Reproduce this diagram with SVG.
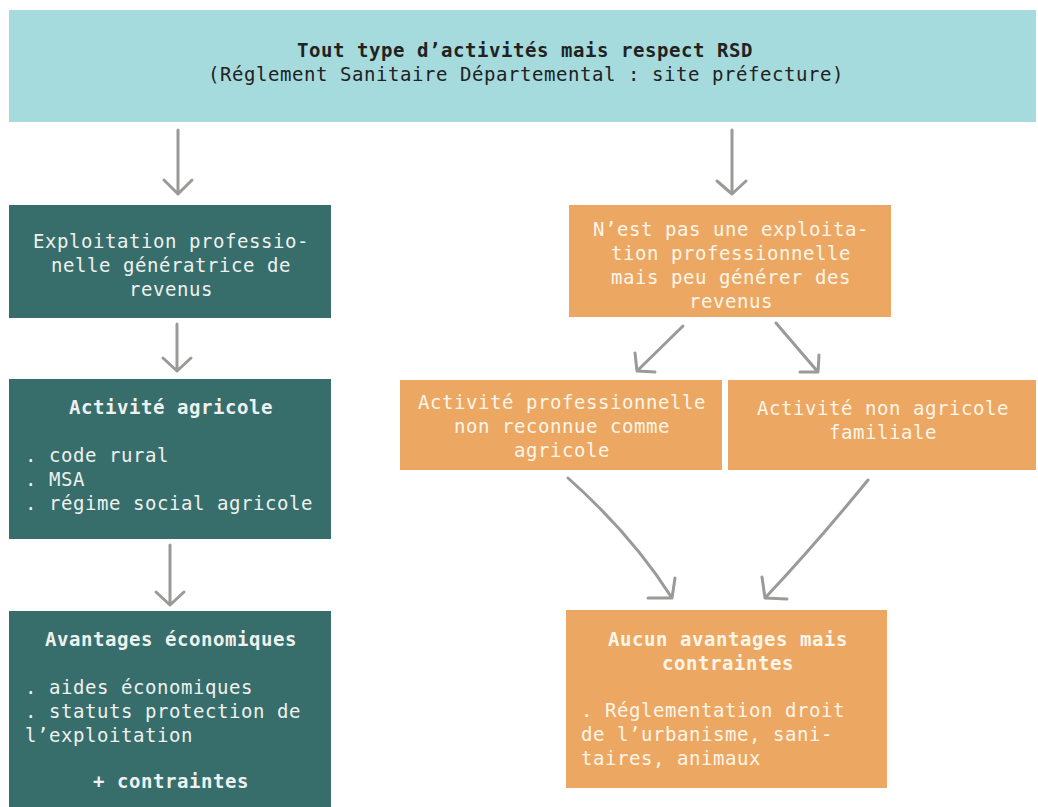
<svg xmlns="http://www.w3.org/2000/svg" width="1038" height="807" viewBox="0 0 1038 807">
<defs>
<style>
text{font-family:"DejaVu Sans Mono","Liberation Mono",monospace;font-size:19px;letter-spacing:0.56px}
.b{font-weight:bold}
.c{text-anchor:middle}
.dk{fill:#222222}
.lt{fill:#eef1ef}
.wo{fill:#fdf5ea}
.teal{fill:#376e6b}
.or{fill:#eca862}
.ar{fill:none;stroke:#9a9a98;stroke-width:3;stroke-linecap:round;stroke-linejoin:round}
</style>
</defs>
<rect width="1038" height="807" fill="#ffffff"/>
<g id="top">
<rect x="9" y="10" width="1027" height="112" fill="#a5dbdd"/>
<text class="dk b c" x="525" y="57">Tout type d’activités mais respect RSD</text>
<text class="dk c" x="526" y="81">(Réglement Sanitaire Départemental : site préfecture)</text>
</g>
<g id="exploitation">
<rect class="teal" x="9" y="205" width="322" height="113"/>
<text class="lt c" x="171" y="248">Exploitation professio-</text>
<text class="lt c" x="171" y="272">nelle génératrice de</text>
<text class="lt c" x="171" y="296">revenus</text>
</g>
<g id="activite-agricole">
<rect class="teal" x="9" y="379" width="322" height="160"/>
<text class="lt b c" x="171" y="414">Activité agricole</text>
<text class="lt" x="25" y="462">. code rural</text>
<text class="lt" x="25" y="486">. MSA</text>
<text class="lt" x="25" y="510">. régime social agricole</text>
</g>
<g id="avantages">
<rect class="teal" x="9" y="611" width="322" height="196"/>
<text class="lt b c" x="171" y="646">Avantages économiques</text>
<text class="lt" x="25" y="694">. aides économiques</text>
<text class="lt" x="25" y="718">. statuts protection de</text>
<text class="lt" x="25" y="742">l’exploitation</text>
<text class="lt b c" x="171" y="788">+ contraintes</text>
</g>
<g id="non-exploitation">
<rect class="or" x="569" y="205" width="322" height="112"/>
<text class="wo c" x="731" y="236">N’est pas une exploita-</text>
<text class="wo c" x="731" y="260">tion professionnelle</text>
<text class="wo c" x="731" y="284">mais peu générer des</text>
<text class="wo c" x="731" y="308">revenus</text>
</g>
<g id="activite-pro">
<rect class="or" x="400" y="380" width="322" height="90"/>
<text class="wo c" x="562" y="409">Activité professionnelle</text>
<text class="wo c" x="562" y="433">non reconnue comme</text>
<text class="wo c" x="562" y="457">agricole</text>
</g>
<g id="activite-familiale">
<rect class="or" x="728" y="380" width="308" height="90"/>
<text class="wo c" x="883" y="415">Activité non agricole</text>
<text class="wo c" x="883" y="439">familiale</text>
</g>
<g id="aucun-avantage">
<rect class="or" x="566" y="610" width="321" height="178"/>
<text class="wo b c" x="728" y="646">Aucun avantages mais</text>
<text class="wo b c" x="728" y="670">contraintes</text>
<text class="wo" x="581" y="717">. Réglementation droit</text>
<text class="wo" x="581" y="741">de l’urbanisme, sani-</text>
<text class="wo" x="581" y="765">taires, animaux</text>
</g>
<g id="connectors">
<path class="ar" d="M178,130 V194 M164,180 L178,194 L192,180"/>
<path class="ar" d="M732,130 V194 M717,181 L732,194 L746,181"/>
<path class="ar" d="M177,324 V371 M163,358 L177,371 L191,358"/>
<path class="ar" d="M170,545 V605 M156,592 L170,605 L184,592"/>
<path class="ar" d="M683,326 L637,371 M635,353 L637,371 L655,372"/>
<path class="ar" d="M776,323 L818,372 M819,355 L818,372 L800,372"/>
<path class="ar" d="M568,478 Q632,535 672,598 M675,578 L672,598 L648,598"/>
<path class="ar" d="M868,480 Q815,545 765,598 M762,577 L765,598 L787,599"/>
</g>
</svg>
